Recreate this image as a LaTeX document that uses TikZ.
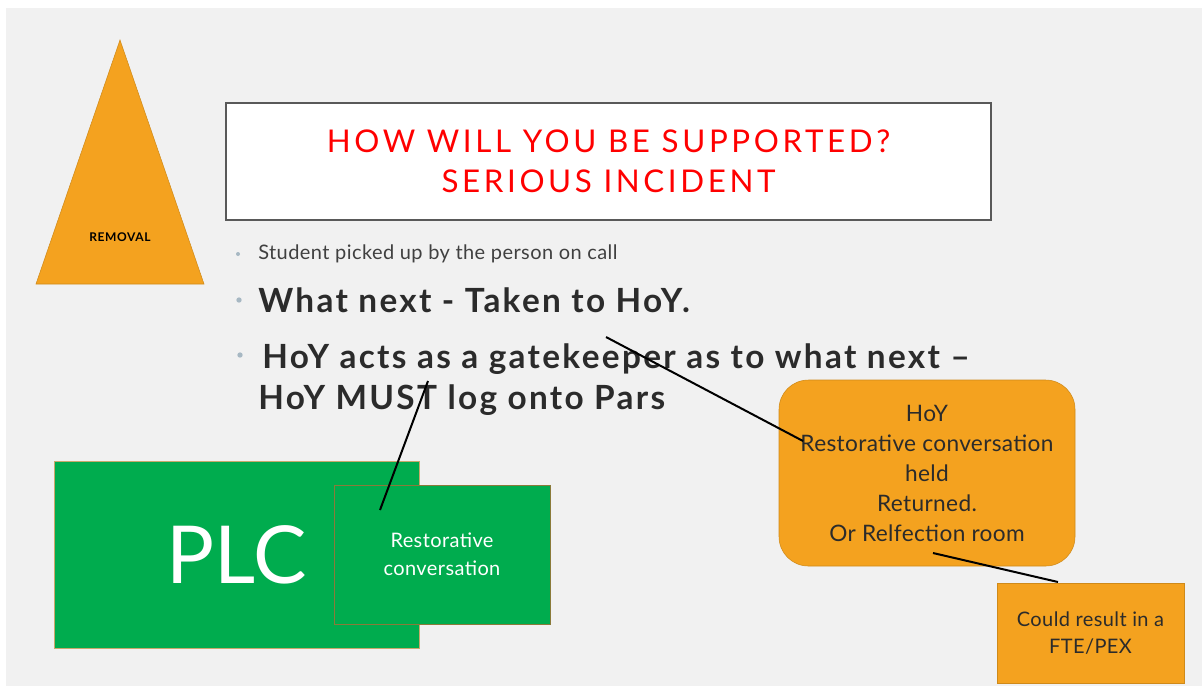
\documentclass[tikz,border=0pt]{standalone}
\usepackage{fontspec}
\setmainfont{Lato}
\definecolor{bg}{HTML}{F1F1F1}
\definecolor{orng}{HTML}{F4A21F}
\definecolor{grn}{HTML}{00AC4E}
\definecolor{txt}{HTML}{2B2B2B}
\definecolor{gtxt}{HTML}{404040}
\definecolor{dot}{HTML}{A7B8C3}
\definecolor{tan}{HTML}{C9A86C}
\definecolor{olive}{HTML}{8A7A3A}
\newcommand\ls[1]{\addfontfeatures{LetterSpace=#1}}
\tikzset{
  greenbox/.style={fill=grn, draw=tan, line width=0.6pt, text=white, align=center, inner sep=0pt},
  orangebox/.style={fill=orng, draw=orng!85!black, line width=0.4pt, text=txt, align=center, inner sep=0pt},
  link/.style={draw=black, line width=1.5pt},
  bullet/.style={circle, fill=dot, inner sep=0pt, minimum size=4pt},
  bodytext/.style={anchor=base west, inner sep=0pt, text=txt},
}
\begin{document}
\begin{tikzpicture}[x=0.75pt, y=-0.75pt]
\useasboundingbox (0,0) rectangle (1202,687);
\fill[white] (0,0) rectangle (1202,687);
\fill[bg] (6,8) rectangle (1202,686);
% triangle
\fill[orng] (120,40) -- (204,284) -- (36,284) -- cycle;
\draw[orng!85!black, line width=0.4pt] (120,40) -- (204,284) -- (36,284) -- cycle;
\node[font=\fontsize{9}{10}\selectfont\bfseries\ls{5}, text=black] (removal) at (120,237) {REMOVAL};
% title
\node[draw=black!65, line width=2pt, fill=white, minimum width=573.75pt, minimum height=87.75pt, inner sep=0pt,
      align=center, text=red, font=\fontsize{23.5}{30}\selectfont\ls{11.5}] (title) at (608.5,161.5)
      {HOW WILL YOU BE SUPPORTED?\\SERIOUS INCIDENT};
% bullets
\node[bullet, minimum size=3pt] (b1) at (238,254) {};
\node[bullet] (b2) at (239,300) {};
\node[bullet] (b3) at (240,355) {};
\node[bodytext, text=gtxt, font=\fontsize{15}{18}\selectfont\ls{2.2}] (l1) at (258,259) {Student picked up by the person on call};
\node[bodytext, font=\fontsize{25}{30}\selectfont\bfseries\ls{7}] (l2) at (258,312) {What next - Taken to HoY.};
\node[bodytext, font=\fontsize{25}{30}\selectfont\bfseries\ls{7}] (l3) at (262,368) {HoY acts as a gatekeeper as to what next --};
\node[bodytext, font=\fontsize{25}{30}\selectfont\bfseries\ls{7}] (l4) at (258,409) {HoY MUST log onto Pars};
% green boxes
\node[greenbox, minimum width=273.75pt, minimum height=140.25pt, font=\fontsize{60}{66}\selectfont] (plc) at (236.5,554.5) {PLC};
\node[greenbox, draw=olive, minimum width=162pt, minimum height=104.25pt, font=\fontsize{15}{21}\selectfont\ls{2}] (rest) at (442,554.5) {Restorative\\conversation};
% orange boxes
\node[orangebox, rounded corners=22pt, minimum width=222pt, minimum height=139.5pt, font=\fontsize{17}{22.5}\selectfont\ls{1.5}] (hoy) at (927,473)
  {HoY\\Restorative conversation\\held\\Returned.\\Or Relfection room};
\node[orangebox, minimum width=140.25pt, minimum height=75pt, font=\fontsize{15}{20}\selectfont\ls{2}] (fte) at (1090.5,633)
  {Could result in a\\FTE/PEX};
% connector ends
\coordinate (c1a) at (606,337);
\coordinate (c1b) at (803,441);
\coordinate (c2a) at (428,381);
\coordinate (c2b) at (380,510);
\coordinate (c3a) at (933,553);
\coordinate (c3b) at (1058,582);
\draw[link] (c1a) -- (c1b);
\draw[link] (c2a) -- (c2b);
\draw[link] (c3a) -- (c3b);
\end{tikzpicture}
\end{document}
